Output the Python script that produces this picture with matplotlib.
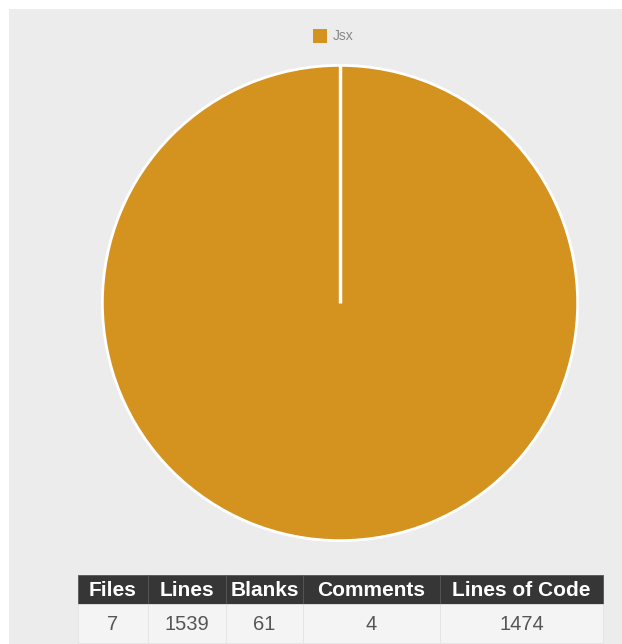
#!/usr/bin/env python3
# -*- coding: utf-8 -*-

import matplotlib
matplotlib.use("Agg")
import matplotlib.pyplot as plt
import numpy as np
from matplotlib.patches import Rectangle

# language breakdown (only one language)
languages = ["Jsx"]
lines_of_code = [1474]

# summary table
headers = ["Files", "Lines", "Blanks", "Comments", "Lines of Code"]
row_values = ["7", "1539", "61", "4", "1474"]

pie_color = "#d4921f"
start_angle = 90

plt.rcParams["font.family"] = ["Liberation Sans", "DejaVu Sans"]

W, H = 622, 644
fig = plt.figure(figsize=(W / 100, H / 100), dpi=100)
fig.patch.set_facecolor("white")

# grey panel behind everything
fig.patches.append(Rectangle((9 / W, 0), 1 - 9 / W, 1 - 9 / H, transform=fig.transFigure,
                             facecolor="#ececec", edgecolor="none", zorder=-5))

# pie
ax = fig.add_axes([100 / W, 1 - 543 / H, 480 / W, 480 / H])
ax.set_zorder(2)
wedges, _ = ax.pie(lines_of_code, colors=[pie_color], startangle=start_angle, counterclock=False,
                   wedgeprops=dict(edgecolor="white", linewidth=2))
# a single full wedge hides its radial edge, draw it back
a = np.deg2rad(start_angle)
ax.plot([0, np.cos(a)], [0, np.sin(a)], color="white", lw=2.5, solid_capstyle="butt")
ax.set_xlim(-1.01, 1.01)
ax.set_ylim(-1.01, 1.01)
ax.set_aspect("equal")
ax.axis("off")

# legend
fig.patches.append(Rectangle((313 / W, 1 - 43 / H), 14 / W, 14 / H, transform=fig.transFigure,
                             facecolor=pie_color, edgecolor="none"))
fig.text(333 / W, 1 - 36 / H, languages[0], ha="left", va="center", fontsize=10, color="#888888")

# table
col_w = [70, 78, 77, 137, 163]
tx0, ty0 = 78, 575
head_h, row_h = 29, 39
x = tx0
for name, val, w in zip(headers, row_values, col_w):
    fig.patches.append(Rectangle((x / W, 1 - (ty0 + head_h) / H), w / W, head_h / H,
                                 transform=fig.transFigure, facecolor="#363636",
                                 edgecolor="#555555", linewidth=0.6))
    fig.patches.append(Rectangle((x / W, 1 - (ty0 + head_h + row_h) / H), w / W, row_h / H,
                                 transform=fig.transFigure, facecolor="#f4f4f4",
                                 edgecolor="#e4e4e4", linewidth=0.6))
    cx = (x + w / 2) / W
    fig.text(cx, 1 - (ty0 + head_h / 2 + 1) / H, name, ha="center", va="center",
             fontsize=15, fontweight="bold", color="white")
    fig.text(cx, 1 - (ty0 + head_h + 20) / H, val, ha="center", va="center",
             fontsize=14.5, color="#555555")
    x += w

fig.savefig("out.png", dpi=100, facecolor=fig.get_facecolor())
